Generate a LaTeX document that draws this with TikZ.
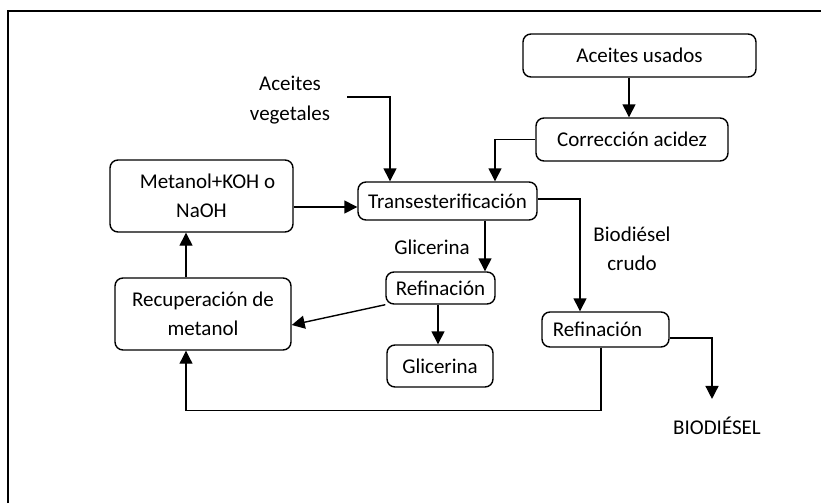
\documentclass[tikz,border=0pt]{standalone}
\usepackage{fontspec}
\setmainfont{Carlito}
\usetikzlibrary{arrows.meta}
\begin{document}
\begin{tikzpicture}[x=1pt,y=-1pt,
  box/.style={draw,line width=1.4pt,rounded corners=8pt,inner sep=0pt,align=center},
  lbl/.style={align=center,inner sep=0pt},
  arr/.style={line width=1.4pt,-{Triangle[width=13pt,length=13pt]}},
  every node/.style={font=\fontsize{21}{29.5}\selectfont}]
\useasboundingbox (0,0) rectangle (821,503);
% frame
\draw[line width=1.5pt] (8,503) -- (8,11) -- (821,11);
% boxes
\node[box,minimum width=233pt,minimum height=43pt] (usados) at (639.5,55.5) {Aceites usados};
\node[box,minimum width=192pt,minimum height=43pt] (corr) at (632,139.5) {Corrección acidez};
\node[box,minimum width=179pt,minimum height=38pt] (trans) at (447.5,201) {Transesterificación};
\node[box,minimum width=183pt,minimum height=72pt] (metanol) at (201.5,196) {\hspace*{12pt}Metanol+KOH o\\NaOH};
\node[box,minimum width=176pt,minimum height=72pt] (recup) at (203,314) {Recuperación de\\metanol};
\node[box,minimum width=109pt,minimum height=32pt] (refL) at (440.5,288) {Refinación};
\node[box,minimum width=106pt,minimum height=42pt] (glic) at (440,366) {Glicerina};
\node[box,minimum width=127pt,minimum height=35pt] (refR) at (605.5,329.5) {Refinación\hspace*{16pt}};
% labels
\node[lbl] (veg) at (290,100) {Aceites\\vegetales};
\node[lbl] (glab) at (432,247) {Glicerina};
\node[lbl] (crudo) at (632,249) {Biodiésel\\crudo};
\node[lbl] (bio) at (717,426) {BIODIÉSEL};
\coordinate (vegstart) at (347,97);
% connectors
\draw[arr] ([xshift=-10.5pt]usados.south) -- ([xshift=-10.5pt]usados.south |- corr.north);
\draw[arr] (corr.west) -| ([xshift=47.5pt]trans.north);
\draw[arr] (vegstart) -| ([xshift=-57.5pt]trans.north);
\draw[arr] ([yshift=-11pt]metanol.east) -- ([yshift=-11pt]metanol.east -| trans.west);
\draw[arr] ([yshift=2pt]trans.east) -| ([xshift=-25.5pt]refR.north);
\draw[arr] ([xshift=37.5pt]trans.south) -- ([xshift=37.5pt]trans.south |- refL.north);
\draw[arr] ([xshift=-2.5pt]refL.south) -- ([xshift=-2.5pt]refL.south |- glic.north);
\draw[arr] (refL.south west) -- ([yshift=-11pt]recup.east);
\draw[arr] ([xshift=-17pt]recup.north) -- ([xshift=-17pt]recup.north |- metanol.south);
\draw[arr,line width=1.1pt] ([xshift=-4.5pt]refR.south) -- ++(0,63) -| ([xshift=-17pt]recup.south);
\draw[arr] ([yshift=-8.5pt]refR.east) -| ([xshift=-5pt,yshift=18pt]bio.north);
\end{tikzpicture}
\end{document}
